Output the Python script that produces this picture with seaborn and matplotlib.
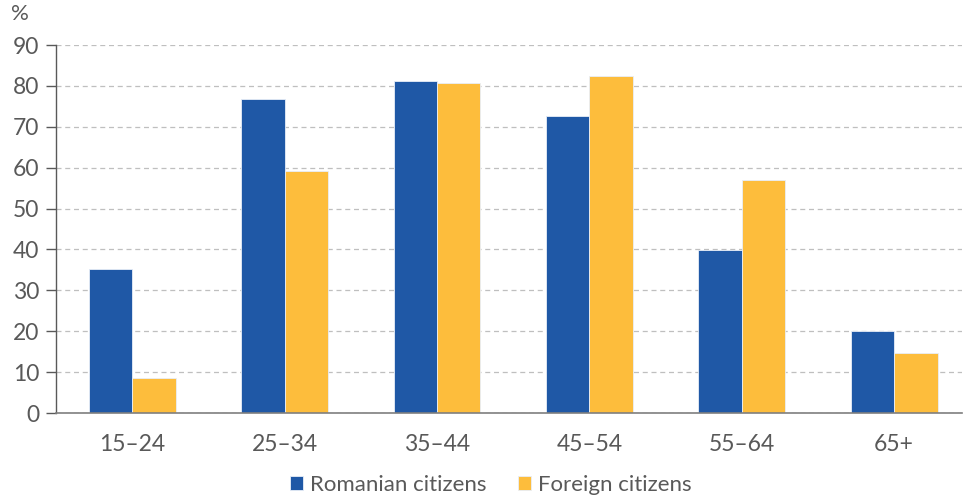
import matplotlib
matplotlib.use("Agg")
import matplotlib.pyplot as plt
import seaborn as sns
import pandas as pd

age_groups = ["15–24", "25–34", "35–44", "45–54", "55–64", "65+"]
romanian = [35.2, 76.8, 81.2, 72.6, 39.9, 20.1]
foreign = [8.5, 59.2, 80.7, 82.4, 57.0, 14.7]
series_names = ["Romanian citizens", "Foreign citizens"]
y_ticks = [0, 10, 20, 30, 40, 50, 60, 70, 80, 90]

df = pd.DataFrame({
    "age": age_groups * 2,
    "value": romanian + foreign,
    "series": [series_names[0]] * len(age_groups) + [series_names[1]] * len(age_groups),
})

sns.set_theme(style="white")
plt.rcParams["font.family"] = ["Lato", "DejaVu Sans"]

text_color = "#595959"
palette = {series_names[0]: "#1F58A6", series_names[1]: "#FDBD3C"}

fig = plt.figure(figsize=(9.64, 4.95), dpi=100)
ax = fig.add_axes([56 / 964, 1 - 413 / 495, (962 - 56) / 964, (413 - 45) / 495])

sns.barplot(data=df, x="age", y="value", hue="series", order=age_groups,
            hue_order=series_names, palette=palette, width=0.57, gap=0,
            edgecolor="#E8EEF8", linewidth=0.6, saturation=1, ax=ax, legend=True)

ax.set_ylim(0, 90)
ax.set_xlim(-0.5, 5.445)
ax.set_yticks(y_ticks)
ax.set_yticklabels([str(t) for t in y_ticks])
ax.yaxis.grid(True, linestyle=(0, (4, 3)), color="#BFBFBF", linewidth=0.9)
ax.set_axisbelow(True)
ax.set_xlabel("")
ax.set_ylabel("")

for side in ["top", "right"]:
    ax.spines[side].set_visible(False)
ax.spines["left"].set_color("#595959")
ax.spines["left"].set_linewidth(1.0)
ax.spines["bottom"].set_color("#7F7F7F")
ax.spines["bottom"].set_linewidth(1.2)

ax.tick_params(axis="y", which="both", length=7, width=1.0, color="#595959",
               labelsize=16.5, labelcolor=text_color, pad=5, left=True, direction="out")
ax.tick_params(axis="x", length=0, labelsize=16.5, labelcolor=text_color, pad=15)

fig.text(20 / 964, 1 - 14 / 495, "%", fontsize=16, color=text_color,
         ha="center", va="center")

handles, labels = ax.get_legend_handles_labels()
ax.get_legend().remove()
fig.legend(handles, labels, loc="center", bbox_to_anchor=(0.509, 1 - 485 / 495),
           ncol=2, frameon=False, fontsize=16, labelcolor=text_color,
           handlelength=0.62, handleheight=0.62, handletextpad=0.3,
           columnspacing=1.4, borderpad=0)

fig.savefig("out.png", dpi=100)
